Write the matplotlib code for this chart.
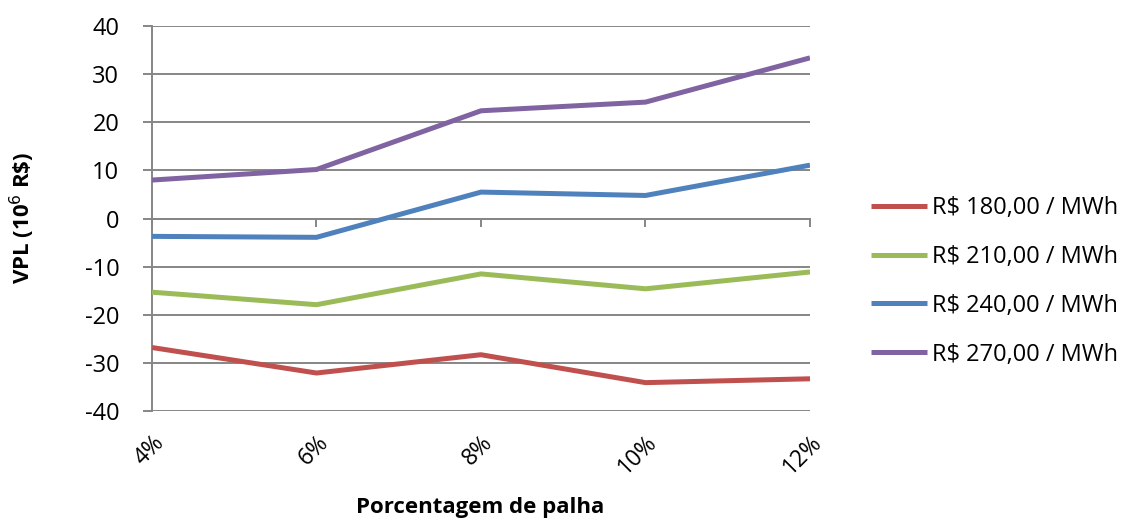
import numpy as np
import matplotlib.pyplot as plt

plt.rcParams['font.family'] = ['Open Sans', 'DejaVu Sans']

# straw percentage categories and NPV per energy price
palha = ['4%', '6%', '8%', '10%', '12%']
vpl_180 = [-26.8, -32.1, -28.3, -34.1, -33.3]
vpl_210 = [-15.3, -17.9, -11.5, -14.6, -11.1]
vpl_240 = [-3.7, -3.9, 5.5, 4.8, 11.1]
vpl_270 = [8.0, 10.2, 22.4, 24.2, 33.4]
series = [
    ('R$ 180,00 / MWh', vpl_180, '#C0504D'),
    ('R$ 210,00 / MWh', vpl_210, '#9BBB59'),
    ('R$ 240,00 / MWh', vpl_240, '#4F81BD'),
    ('R$ 270,00 / MWh', vpl_270, '#8064A2'),
]
yticks = np.arange(-40, 41, 10)

grey = '#868686'
fig = plt.figure(figsize=(11.25, 5.22), dpi=100)
ax = fig.add_axes([0.1351, 0.2126, 0.5849, 0.7374])

x = np.arange(len(palha))
for name, vals, col in series:
    ax.plot(x, vals, color=col, lw=3.6, label=name, solid_capstyle='butt', zorder=3)

ax.set_xlim(0, len(palha) - 1)
ax.set_ylim(-40, 40)
ax.set_yticks(yticks)
ax.set_yticklabels([str(v) for v in yticks], fontsize=17)
ax.yaxis.grid(True, color=grey, lw=1.4)
ax.set_axisbelow(True)

for s in ['top', 'right']:
    ax.spines[s].set_visible(False)
ax.spines['left'].set_color(grey)
ax.spines['left'].set_linewidth(1.4)
ax.spines['bottom'].set_position(('data', 0))
ax.spines['bottom'].set_color(grey)
ax.spines['bottom'].set_linewidth(1.4)
ax.tick_params(axis='y', length=6.5, color=grey, width=1.4, pad=17)
ax.set_xticks(x)
ax.tick_params(axis='x', length=6, color=grey, width=1.4, labelbottom=False)

# category labels sit under the plot, rotated
sec = ax.secondary_xaxis('bottom')
sec.set_xticks(x)
sec.set_xticklabels(palha, fontsize=16.5, rotation=45, ha='right', va='top',
                    rotation_mode='anchor')
sec.tick_params(length=0, pad=14)
sec.spines['bottom'].set_visible(False)

fig.text(0.427, 0.027, 'Porcentagem de palha', fontsize=16, fontweight='bold',
         ha='center', va='center')
fig.text(0.02, 0.582, r'VPL (10$^{6}$ R\$)', fontsize=16, fontweight='bold',
         rotation=90, ha='center', va='center')

ax.legend(loc='center left', bbox_to_anchor=(0.755, 0.461),
          bbox_transform=fig.transFigure, frameon=False, fontsize=17,
          handlelength=2.4, handletextpad=0.2, labelspacing=1.05)

fig.savefig('out.png', dpi=100)
